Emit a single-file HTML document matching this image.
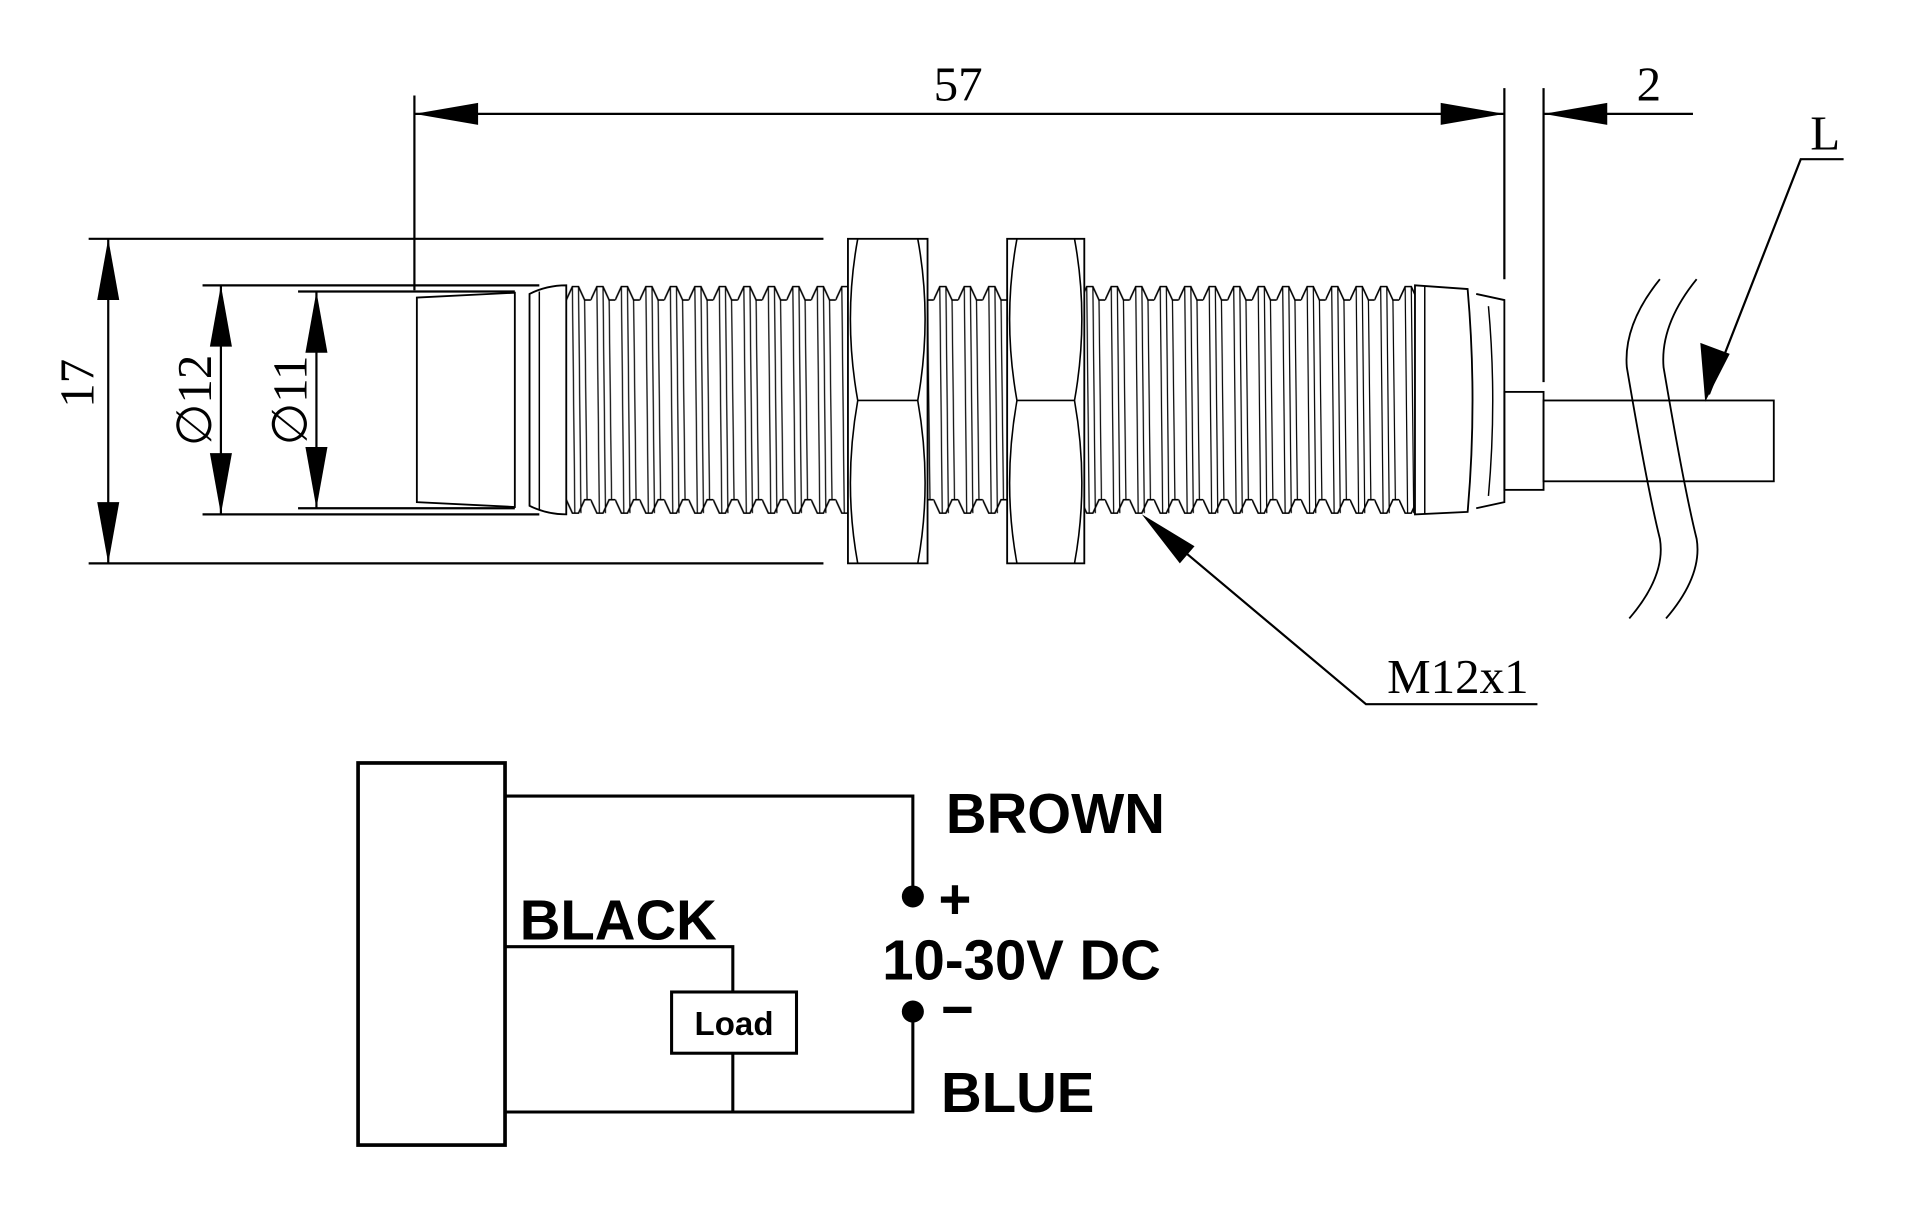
<!DOCTYPE html>
<html><head><meta charset="utf-8"><style>html,body{margin:0;padding:0;background:#fff}svg{display:block}</style></head>
<body>
<svg width="1920" height="1221" viewBox="0 0 1567 997" xmlns="http://www.w3.org/2000/svg">
<defs>
<pattern id="th" patternUnits="userSpaceOnUse" x="462" y="0" width="20" height="987">
<polyline points="0,245 5,234 10,234 15,245 20,245" fill="none" stroke="#000" stroke-width="1.3"/>
<polyline points="0,408 5,419 10,419 15,408 20,408" fill="none" stroke="#000" stroke-width="1.3"/>
<path d="M5,234 L7,419 M15,245 L17,408 M10,234 L12,419" stroke="#000" stroke-width="1" fill="none"/>
</pattern>
</defs>
<g fill="none" stroke="#000" stroke-width="1.8">
<line x1="338" y1="78" x2="338" y2="237"/>
<line x1="1228" y1="72" x2="1228" y2="228"/>
<line x1="1260" y1="72" x2="1260" y2="312"/>
<line x1="338" y1="93" x2="1228" y2="93"/>
<line x1="1260" y1="93" x2="1382" y2="93"/>
<polyline points="1505,130 1470,130 1395,322"/>
<line x1="72" y1="195" x2="672" y2="195"/>
<line x1="72" y1="460" x2="672" y2="460"/>
<line x1="88" y1="195" x2="88" y2="460"/>
<line x1="165" y1="233" x2="440" y2="233"/>
<line x1="165" y1="420" x2="440" y2="420"/>
<line x1="180" y1="233" x2="180" y2="420"/>
<line x1="243" y1="238" x2="420" y2="238"/>
<line x1="243" y1="415" x2="420" y2="415"/>
<line x1="258" y1="238" x2="258" y2="415"/>
<path d="M340,243 L420,239 L420,414 L340,410 Z" stroke-width="1.5"/>
<path d="M432,240 Q446,233 462,233 L462,420 Q446,420 432,413 Z" stroke-width="1.5"/>
<line x1="440" y1="238" x2="440" y2="416" stroke-width="1.2"/>
<rect x="462" y="230" width="230" height="194" fill="url(#th)" stroke="none"/>
<rect x="757" y="230" width="65" height="194" fill="url(#th)" stroke="none"/>
<rect x="885" y="230" width="270" height="194" fill="url(#th)" stroke="none"/>
<rect x="692" y="195" width="65" height="265" fill="#fff" stroke-width="1.5"/>
<path d="M700,195 Q688,260 700,327 Q688,395 700,460 M749,195 Q761,260 749,327 Q761,395 749,460 M700,327 L749,327" stroke-width="1.3"/>
<rect x="822" y="195" width="63" height="265" fill="#fff" stroke-width="1.5"/>
<path d="M830,195 Q818,260 830,327 Q818,395 830,460 M877,195 Q889,260 877,327 Q889,395 877,460 M830,327 L877,327" stroke-width="1.3"/>
<path d="M1155,233 L1198,236 Q1206,327 1198,418 L1155,420 Z" stroke-width="1.5"/>
<line x1="1163" y1="234" x2="1163" y2="420" stroke-width="1.2"/>
<path d="M1205,240 L1228,245 L1228,410 L1205,415" stroke-width="1.5"/>
<path d="M1215,250 Q1222,327 1215,405" stroke-width="1.2"/>
<rect x="1228" y="320" width="32" height="80" stroke-width="1.5"/>
<rect x="1260" y="327" width="188" height="66" stroke-width="1.5"/>
<path d="M1355,228 Q1325,265 1328,300 Q1345,400 1355,440 Q1360,470 1330,505" stroke-width="1.5"/>
<path d="M1385,228 Q1355,265 1358,300 Q1375,400 1385,440 Q1390,470 1360,505" stroke-width="1.5"/>
<polyline points="940,428 1115,575 1255,575"/>
<rect x="292" y="623" width="120" height="312" stroke-width="3"/>
<polyline points="412,650 745,650 745,732" stroke-width="2.5"/>
<polyline points="745,826 745,908 412,908" stroke-width="2.5"/>
<polyline points="412,773 598,773 598,810" stroke-width="2.5"/>
<line x1="598" y1="860" x2="598" y2="908" stroke-width="2.5"/>
<rect x="548" y="810" width="102" height="50" stroke-width="2.5"/>
</g>
<g fill="#000">
<polygon points="338,93 390,84 390,102"/>
<polygon points="1228,93 1176,84 1176,102"/>
<polygon points="1260,93 1312,84 1312,102"/>
<polygon points="1392,328 1388,280 1412,289"/>
<polygon points="88,195 79,245 97,245"/>
<polygon points="88,460 79,410 97,410"/>
<polygon points="180,233 171,283 189,283"/>
<polygon points="180,420 171,370 189,370"/>
<polygon points="258,238 249,288 267,288"/>
<polygon points="258,415 249,365 267,365"/>
<polygon points="932,420 975,446 963,460"/>
<circle cx="745" cy="732" r="9"/>
<circle cx="745" cy="826" r="9"/>
</g>
<g font-family="Liberation Serif, serif" font-size="40" fill="#000">
<text x="782" y="82" text-anchor="middle">57</text>
<text x="1346" y="82" text-anchor="middle">2</text>
<text x="1490" y="122" text-anchor="middle">L</text>
<text x="1190" y="566" text-anchor="middle">M12x1</text>
<text transform="translate(76,313) rotate(-90)" text-anchor="middle">17</text>
<text transform="translate(172,327) rotate(-90)" text-anchor="middle">∅12</text>
<text transform="translate(250,327) rotate(-90)" text-anchor="middle">∅11</text>
</g>
<g font-family="Liberation Sans, sans-serif" font-weight="bold" font-size="46" fill="#000">
<text x="772" y="680">BROWN</text>
<text x="720" y="800">10-30V DC</text>
<text x="768" y="908">BLUE</text>
<text x="424" y="767">BLACK</text>
<text x="766" y="750">+</text>
<text x="768" y="840">−</text>
<text x="599" y="845" text-anchor="middle" font-size="27">Load</text>
</g>
</svg>
</body></html>
